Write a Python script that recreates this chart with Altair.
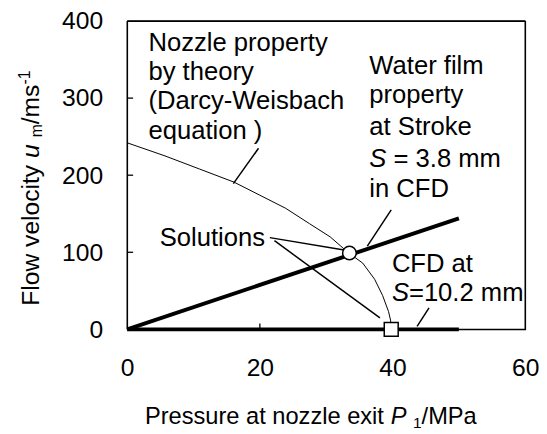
import altair as alt
import pandas as pd

FONT = "Liberation Sans"

# Nozzle property by theory (Darcy-Weisbach)
theory_p = [0, 5.7, 10.9, 16.1, 20.0, 23.9, 27.5, 30.6, 33.4, 35.5, 37.3, 38.5, 39.4, 39.7, 39.8]
theory_u = [242, 225, 208, 191, 174, 157, 137, 120, 99, 86, 65, 44, 23, 12, 0]

# Water film property at S = 3.8 mm (CFD)
film_p = [0, 50]
film_u = [0, 144]

# CFD at S = 10.2 mm
cfd_p = [0, 50]
cfd_u = [0, 0]

# Solutions
circle_p, circle_u = [33.5], [99]
square_p, square_u = [39.8], [0]

# Leader lines
leader_p1 = [19.8, 21.5, 22.2, 39.8, 45.5]
leader_u1 = [235, 119, 115, 155, 28]
leader_p2 = [16.0, 32.7, 38.1, 36.2, 43.7]
leader_u2 = [189, 103, 15, 108, 4]

# Annotation text (normal)
note_text = ["Nozzle property", "by theory", "(Darcy-Weisbach", "equation )",
             "Water film", "property", "at Stroke", "in CFD",
             "Solutions", "CFD at"]
note_p = [3.2, 3.2, 3.2, 3.2, 36.5, 36.5, 36.5, 36.5, 4.9, 39.9]
note_u = [361.5, 323.4, 285.3, 247.3, 331.6, 293.0, 252.4, 171.1, 107.8, 74.9]

# italic symbol S and the rest of those lines
sym_text = ["S", "S"]
sym_p = [36.5, 39.9]
sym_u = [210.9, 36.4]
rest1_text, rest1_p, rest1_u = ["= 3.8 mm"], [36.5], [210.9]
rest2_text, rest2_p, rest2_u = ["=10.2 mm"], [39.9], [36.4]

x_ticks = [0, 20, 40, 60]
y_ticks = [0, 100, 200, 300, 400]
x_inner_ticks = [20, 40]
y_inner_ticks = [100, 200, 300]

W, H = 404, 313
X_MIN, X_MAX, Y_MIN, Y_MAX = 0, 60, 0, 400
TICK_PX = 6
tick_dx = TICK_PX * (X_MAX - X_MIN) / W
tick_dy = TICK_PX * (Y_MAX - Y_MIN) / H

xs = alt.Scale(domain=[X_MIN, X_MAX], nice=False, zero=False)
ys = alt.Scale(domain=[Y_MIN, Y_MAX], nice=False, zero=False)

xaxis = alt.Axis(values=x_ticks, grid=False, domain=False, ticks=False, labelFontSize=25,
                 labelFont=FONT, labelColor="black", labelPadding=27, title=None, labelFlush=False)
yaxis = alt.Axis(values=y_ticks, grid=False, domain=False, ticks=False, labelFontSize=25,
                 labelFont=FONT, labelColor="black", labelPadding=25, title=None)

theory = pd.DataFrame({"P": theory_p, "u": theory_u})
film = pd.DataFrame({"P": film_p, "u": film_u})
cfd = pd.DataFrame({"P": cfd_p, "u": cfd_u})

# frame box and inward ticks as segments along the scale domain
seg_a = [X_MIN, X_MAX, X_MAX, X_MIN]
seg_b = [Y_MIN, Y_MIN, Y_MAX, Y_MAX]
seg_a2 = [X_MAX, X_MAX, X_MIN, X_MIN]
seg_b2 = [Y_MIN, Y_MAX, Y_MAX, Y_MIN]
for t in x_inner_ticks:
    seg_a.append(t); seg_b.append(Y_MIN); seg_a2.append(t); seg_b2.append(Y_MIN + tick_dy)
for t in y_inner_ticks:
    seg_a.append(X_MIN); seg_b.append(t); seg_a2.append(X_MIN + tick_dx); seg_b2.append(t)
frame_df = pd.DataFrame({"a": seg_a, "b": seg_b, "a2": seg_a2, "b2": seg_b2})

frame = alt.Chart(frame_df).mark_rule(color="black", strokeWidth=1.3).encode(
    x=alt.X("a:Q", scale=xs, axis=xaxis), y=alt.Y("b:Q", scale=ys, axis=yaxis),
    x2="a2:Q", y2="b2:Q")

base_theory = alt.Chart(theory).mark_line(color="black", strokeWidth=1).encode(
    x=alt.X("P:Q", scale=xs), y=alt.Y("u:Q", scale=ys))
film_line = alt.Chart(film).mark_line(color="black", strokeWidth=4).encode(
    x=alt.X("P:Q", scale=xs), y=alt.Y("u:Q", scale=ys))
cfd_line = alt.Chart(cfd).mark_line(color="black", strokeWidth=4).encode(
    x=alt.X("P:Q", scale=xs), y=alt.Y("u:Q", scale=ys))

leaders = alt.Chart(pd.DataFrame({"p1": leader_p1, "u1": leader_u1, "p2": leader_p2, "u2": leader_u2})
                    ).mark_rule(color="black", strokeWidth=1.5).encode(
    x=alt.X("p1:Q", scale=xs), y=alt.Y("u1:Q", scale=ys), x2="p2:Q", y2="u2:Q")

circ = alt.Chart(pd.DataFrame({"P": circle_p, "u": circle_u})).mark_point(
    shape="circle", filled=True, fill="white", stroke="black", strokeWidth=1.5, size=190, opacity=1).encode(
    x=alt.X("P:Q", scale=xs), y=alt.Y("u:Q", scale=ys))
sq = alt.Chart(pd.DataFrame({"P": square_p, "u": square_u})).mark_point(
    shape="square", filled=True, fill="white", stroke="black", strokeWidth=1.5, size=200, opacity=1).encode(
    x=alt.X("P:Q", scale=xs), y=alt.Y("u:Q", scale=ys))


def text_layer(texts, ps, us, italic=False, dx=0):
    df = pd.DataFrame({"text": texts, "P": ps, "u": us})
    return alt.Chart(df).mark_text(align="left", baseline="alphabetic", font=FONT, fontSize=26,
                                   fontStyle="italic" if italic else "normal", color="black", dx=dx).encode(
        x=alt.X("P:Q", scale=xs), y=alt.Y("u:Q", scale=ys), text="text:N")


notes = text_layer(note_text, note_p, note_u)
syms = text_layer(sym_text, sym_p, sym_u, italic=True)
rest1 = text_layer(rest1_text, rest1_p, rest1_u, dx=24.5)
rest2 = text_layer(rest2_text, rest2_p, rest2_u, dx=17.3)


def label(txt, x, y, size, italic=False, angle=0):
    return alt.Chart(pd.DataFrame({"lab": [txt]})).mark_text(
        align="left", baseline="alphabetic", font=FONT, fontSize=size, angle=angle,
        fontStyle="italic" if italic else "normal", color="black").encode(
        x=alt.value(x), y=alt.value(y), text="lab:N")


xtitle = [
    label("Pressure at nozzle exit", 18, 409, 24),
    label("P", 267.4, 409, 24, italic=True),
    label("1", 290.1, 413, 15.6),
    label("/MPa", 298.8, 409, 24),
]
ytitle = [
    label("Flow velocity", -90, 289, 25, angle=270),
    label("u", -90, 139, 25, italic=True, angle=270),
    label("m", -86, 118.1, 16, angle=270),
    label("/ms", -90, 104.8, 25, angle=270),
    label("-1", -99, 64.5, 16, angle=270),
]

chart = alt.layer(
    frame, base_theory, film_line, cfd_line, leaders, circ, sq,
    notes, syms, rest1, rest2, *xtitle, *ytitle
).properties(
    width=W, height=H,
    padding={"left": 121, "top": 10, "right": 14, "bottom": 103},
    autosize=alt.AutoSizeParams(type="none"),
    background="white",
).configure_view(stroke="black", strokeWidth=1.2)

chart.save("out.html", embed_options={"renderer": "svg", "actions": False})
